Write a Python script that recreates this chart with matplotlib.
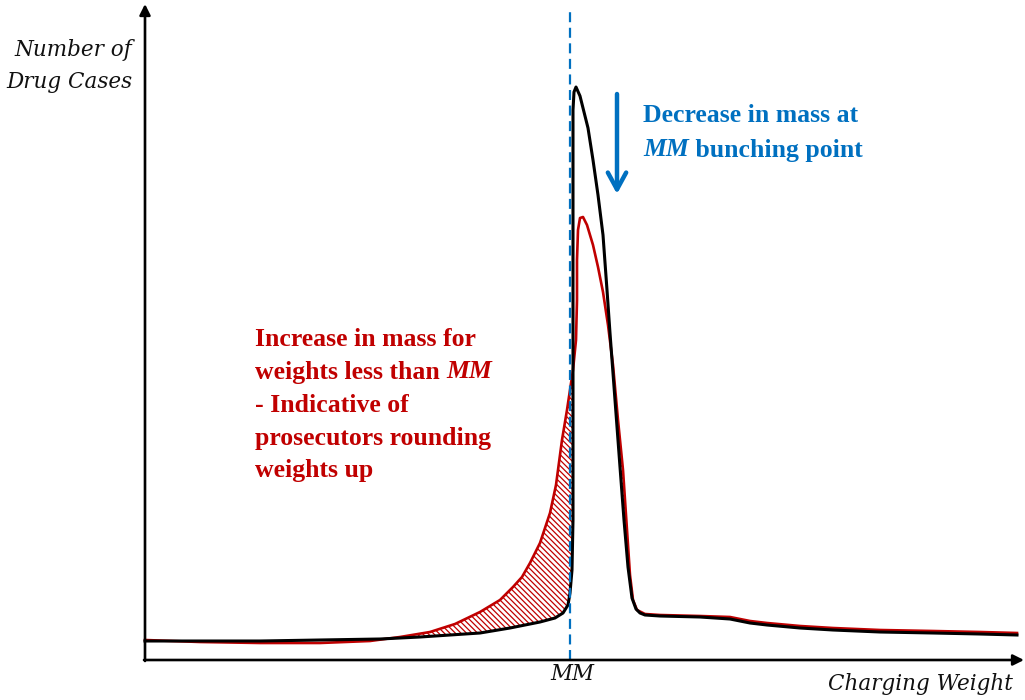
import numpy as np
import matplotlib
matplotlib.use("Agg")
import matplotlib.pyplot as plt

plt.rcParams['font.family'] = ['Liberation Serif', 'DejaVu Serif']
plt.rcParams['hatch.linewidth'] = 0.9

# x: charging weight (arbitrary units, 0 at the y axis), y: number of cases
black_x = [0, 55, 115, 175, 235, 275, 305, 335, 365, 395, 410, 418, 423, 425, 427,
           428, 428, 428, 428, 428, 428, 428, 429, 431, 435, 443, 448, 453, 458, 462,
           465, 470, 475, 479, 483, 487, 491, 495, 500, 515, 555, 585, 605, 622, 655,
           688, 735, 788, 835, 872]
black_y = [19, 19, 19, 20, 21, 23, 25, 27, 32, 38, 42, 47, 55, 67, 90,
           140, 210, 280, 360, 440, 510, 550, 568, 573, 564, 532, 500, 465, 425, 370,
           327, 260, 193, 140, 93, 62, 51, 47, 45, 44, 43, 41, 37, 35, 32,
           30, 28, 27, 26, 25]

red_x = [0, 55, 115, 175, 225, 255, 285, 310, 335, 355, 368, 377, 385, 395, 405,
         411, 417, 422, 428, 431, 432, 432, 433, 435, 438, 442, 448, 453, 458, 463,
         468, 473, 478, 482, 485, 488, 492, 500, 515, 555, 585, 605, 622, 655, 688,
         735, 788, 835, 872]
red_y = [20, 18, 17, 17, 19, 23, 28, 36, 48, 60, 73, 83, 97, 117, 147,
         175, 220, 250, 290, 320, 360, 400, 430, 442, 443, 435, 415, 393, 368, 335,
         295, 240, 190, 130, 85, 60, 50, 46, 45, 44, 43, 39, 37, 34, 32,
         30, 29, 28, 27]

mm_x = 425
blue = '#0070C0'
red = '#C00000'

fig = plt.figure(figsize=(10.25, 7), dpi=100)
ax = fig.add_axes([0, 0, 1, 1])
ax.set_xlim(-145, 880)
ax.set_ylim(-40, 660)
ax.axis('off')

# hatched excess mass: under red, masked by white area under black
ax.fill_between(red_x, 0, red_y, facecolor='white', edgecolor=red,
                hatch='\\\\\\\\\\\\', linewidth=0, zorder=1)
ax.fill_between(black_x, 0, black_y, facecolor='white', linewidth=0, zorder=2)
ax.plot(red_x, red_y, color=red, lw=1.9, zorder=3, solid_joinstyle='round')
ax.plot(black_x, black_y, color='black', lw=2.2, zorder=4, solid_joinstyle='round')

ax.plot([mm_x, mm_x], [0, 648], color=blue, lw=1.6, dashes=(4.5, 2.5), zorder=5)

# axes arrows
ax.annotate('', xy=(0, 656), xytext=(0, -1),
            arrowprops=dict(arrowstyle='-|>', lw=1.9, color='black',
                            mutation_scale=16, shrinkA=0, shrinkB=0), zorder=6)
ax.annotate('', xy=(879, 0), xytext=(-1, 0),
            arrowprops=dict(arrowstyle='-|>', lw=1.9, color='black',
                            mutation_scale=16, shrinkA=0, shrinkB=0), zorder=6)

# blue down arrow
ax.annotate('', xy=(472, 466), xytext=(472, 566),
            arrowprops=dict(arrowstyle='->,head_length=0.55,head_width=0.3', lw=3.2,
                            color=blue, mutation_scale=22, shrinkA=0, shrinkB=0))

# axis labels
lab = dict(fontsize=15.5, style='italic', family=['DejaVu Serif'], color='#111111')
ax.text(-13, 610, 'Number of', ha='right', va='center', **lab)
ax.text(-13, 578, 'Drug Cases', ha='right', va='center', **lab)
ax.text(mm_x + 2, -14, 'MM', ha='center', va='center', **lab)
ax.text(868, -24, 'Charging Weight', ha='right', va='center', **lab)

# blue annotation
fs = 18.5
ax.text(498, 544, 'Decrease in mass at', ha='left', va='center', fontsize=fs,
        fontweight='bold', color=blue)
t = ax.text(498, 510, 'MM', ha='left', va='center', fontsize=fs,
            fontweight='bold', style='italic', color=blue)
ax.annotate(' bunching point', xy=(1, 0), xycoords=t, va='bottom', ha='left',
            fontsize=fs, fontweight='bold', color=blue)

# red annotation
ax.text(110, 320, 'Increase in mass for', ha='left', va='center', fontsize=fs,
        fontweight='bold', color=red)
t2 = ax.text(110, 288, 'weights less than ', ha='left', va='center', fontsize=fs,
             fontweight='bold', color=red)
ax.annotate('MM', xy=(1, 0), xycoords=t2, va='bottom', ha='left', fontsize=fs,
            fontweight='bold', style='italic', color=red)
for yy, s in zip([255, 222, 190], ['- Indicative of', 'prosecutors rounding', 'weights up']):
    ax.text(110, yy, s, ha='left', va='center', fontsize=fs, fontweight='bold', color=red)

fig.savefig('out.png', dpi=100)
